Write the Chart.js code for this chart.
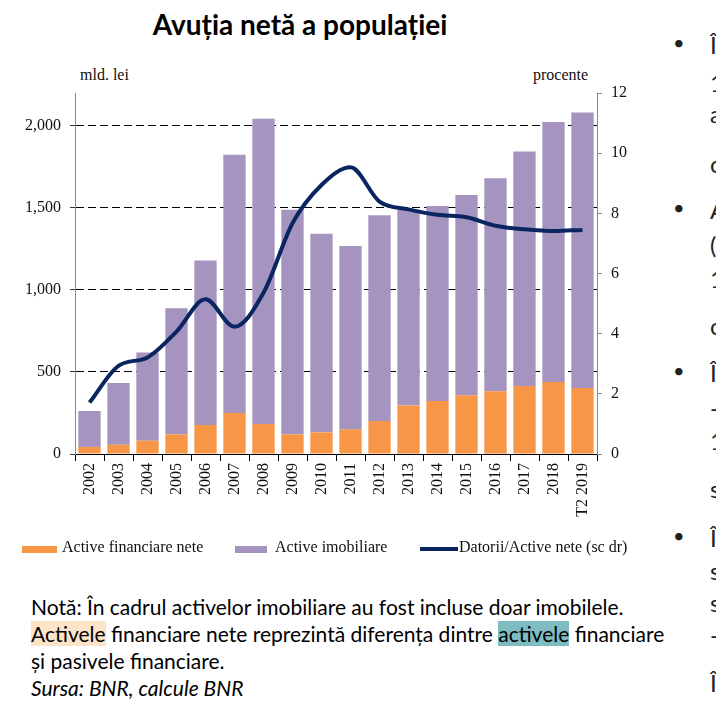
<!DOCTYPE html>
<html lang="ro">
<head>
  <meta charset="UTF-8" />
  <title>Avuția netă a populației</title>
  <script src="https://cdn.jsdelivr.net/npm/chart.js"></script>
  <style>
    body { margin: 0; width: 716px; height: 716px; overflow: hidden; background: #fff; position: relative; font-family: Lato, "Noto Sans", sans-serif; }
    h1 { position: absolute; left: 0; width: 600px; top: 6px; margin: 0; text-align: center; font-size: 28px; font-weight: bold; line-height: 36px; color: #000; }
    .unit { position: absolute; top: 66px; font-family: "Liberation Serif", serif; font-size: 16px; color: #111; }
    #wrap { position: absolute; left: 0; top: 60px; width: 650px; height: 480px; }
    .legend { position: absolute; top: 538px; left: 0; width: 660px; font-family: "Liberation Serif", serif; font-size: 16px; color: #111; }
    .legend span { position: absolute; top: 0; white-space: nowrap; }
    .legend i { position: absolute; display: block; }
    .note { position: absolute; left: 31px; top: 593px; font-size: 21px; line-height: 27px; color: #000; white-space: nowrap; }
    .hl1 { background: #fde3c8; }
    .hl2 { background: #7fbcc2; }
    .side { position: absolute; left: 672px; top: 0; width: 44px; height: 716px; overflow: hidden; font-size: 24px; color: #222; }
    .side div { position: absolute; white-space: nowrap; }
  </style>
</head>
<body>
  <h1>Avuția netă a populației</h1>
  <div class="unit" style="left:80px">mld. lei</div>
  <div class="unit" style="left:533px">procente</div>
  <div id="wrap"><canvas id="chart"></canvas></div>

  <div class="legend">
    <i style="left:22px;top:8px;width:35px;height:7px;background:#f79646"></i>
    <span style="left:62px">Active financiare nete</span>
    <i style="left:235px;top:8px;width:32px;height:7px;background:#a594c0"></i>
    <span style="left:275px">Active imobiliare</span>
    <i style="left:420px;top:9px;width:38px;height:4px;background:#0b2561"></i>
    <span style="left:459px">Datorii/Active nete (sc dr)</span>
  </div>

  <div class="note">
    Notă: În cadrul activelor imobiliare au fost incluse doar imobilele.<br>
    <span class="hl1">Activele</span> financiare nete reprezintă diferența dintre <span class="hl2">activele</span> financiare<br>
    și pasivele financiare.<br>
    <i>Sursa: BNR, calcule BNR</i>
  </div>

  <div class="side">
    <div style="left:1px;top:30px;font-size:20px">•</div><div style="left:38px;top:30px">Î</div>
    <div style="left:38px;top:68px">1</div>
    <div style="left:38px;top:99px">a</div>
    <div style="left:38px;top:149px">c</div>
    <div style="left:1px;top:195px;font-size:20px">•</div><div style="left:38px;top:195px">A</div>
    <div style="left:38px;top:230px">(</div>
    <div style="left:38px;top:264px">1</div>
    <div style="left:38px;top:311px">c</div>
    <div style="left:1px;top:358px;font-size:20px">•</div><div style="left:38px;top:358px">Î</div>
    <div style="left:38px;top:393px">-</div>
    <div style="left:38px;top:426px">1</div>
    <div style="left:38px;top:474px">s</div>
    <div style="left:1px;top:523px;font-size:20px">•</div><div style="left:38px;top:523px">Î</div>
    <div style="left:38px;top:556px">s</div>
    <div style="left:38px;top:588px">s</div>
    <div style="left:38px;top:620px">-</div>
    <div style="left:38px;top:668px">Î</div>
  </div>

  <script>
    // ani (ultima valoare: trimestrul 2 2019)
    const years = ['2002', '2003', '2004', '2005', '2006', '2007', '2008', '2009', '2010',
                   '2011', '2012', '2013', '2014', '2015', '2016', '2017', '2018', 'T2 2019'];
    // mld. lei
    const activeFinanciare = [43, 57, 81, 120, 177, 250, 183, 120, 132, 150, 201, 295, 323, 358, 382, 415, 439, 402];
    const totalAvutie = [262, 433, 618, 888, 1179, 1823, 2043, 1488, 1343, 1268, 1455, 1488, 1512, 1579, 1681, 1843, 2024, 2081];
    const activeImobiliare = totalAvutie.map((t, i) => t - activeFinanciare[i]);
    // procente (axa dreapta)
    const datoriiActive = [1.71, 2.93, 3.21, 4.07, 5.14, 4.23, 5.36, 7.67, 8.94, 9.53, 8.39, 8.13, 7.95, 7.87, 7.59, 7.47, 7.41, 7.45];

    const leftTicks = [0, 500, 1000, 1500, 2000];
    const rightTicks = [0, 2, 4, 6, 8, 10, 12];

    const serif = { family: '"Liberation Serif", serif', size: 16 };

    new Chart(document.getElementById('chart'), {
      type: 'bar',
      data: {
        labels: years,
        datasets: [
          {
            type: 'line',
            label: 'Datorii/Active nete (sc dr)',
            data: datoriiActive,
            yAxisID: 'y1',
            borderColor: '#0b2561',
            borderWidth: 4,
            pointRadius: 0,
            cubicInterpolationMode: 'monotone',
            order: 0
          },
          {
            label: 'Active financiare nete',
            data: activeFinanciare,
            backgroundColor: '#f79646',
            stack: 's',
            order: 1
          },
          {
            label: 'Active imobiliare',
            data: activeImobiliare,
            backgroundColor: '#a594c0',
            stack: 's',
            order: 1
          }
        ]
      },
      options: {
        responsive: true,
        maintainAspectRatio: false,
        animation: false,
        layout: { padding: { top: 33 } },
        datasets: { bar: { categoryPercentage: 1, barPercentage: 0.77 } },
        plugins: { legend: { display: false }, tooltip: { enabled: false } },
        scales: {
          x: {
            stacked: true,
            afterFit: axis => { axis.height = 86; },
            grid: { drawOnChartArea: false, drawTicks: true, tickLength: 7, tickColor: '#000' },
            border: { color: '#000', width: 1 },
            ticks: { font: serif, color: '#111', minRotation: 90, maxRotation: 90, padding: 2 }
          },
          y: {
            stacked: true,
            min: 0,
            max: 2200,
            afterFit: axis => { axis.width = 75; },
            afterBuildTicks: axis => { axis.ticks = leftTicks.map(v => ({ value: v })); },
            grid: {
              color: ctx => ctx.tick && ctx.tick.value === 0 ? 'rgba(0,0,0,0)' : '#000',
              tickColor: '#333',
              tickLength: 5,
              lineWidth: 1
            },
            border: { color: '#888', dash: [8, 4] },
            ticks: {
              font: serif,
              color: '#111',
              padding: 9,
              callback: v => v.toLocaleString('en-US')
            }
          },
          y1: {
            position: 'right',
            min: 0,
            max: 12,
            afterFit: axis => { axis.width = 53; },
            afterBuildTicks: axis => { axis.ticks = rightTicks.map(v => ({ value: v })); },
            grid: { drawOnChartArea: false, tickColor: '#888', tickLength: 5 },
            border: { color: '#888' },
            ticks: { font: serif, color: '#111', padding: 9 }
          }
        }
      }
    });
  </script>
</body>
</html>
